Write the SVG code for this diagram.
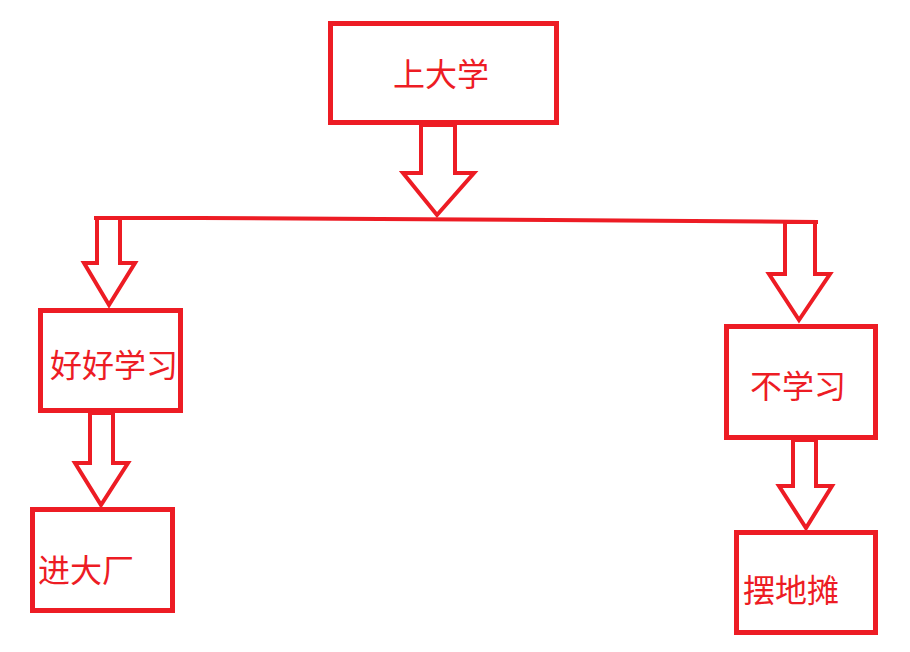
<svg xmlns="http://www.w3.org/2000/svg" width="910" height="652" viewBox="0 0 910 652">
<style>
.box{fill:#fff;stroke:#ED1C24;stroke-width:5}
.arr{fill:#fff;stroke:#ED1C24;stroke-width:4;stroke-linejoin:miter}
.ln{fill:none;stroke:#ED1C24;stroke-width:4}
.t{fill:#ED1C24;font-family:"Microsoft YaHei","Noto Sans CJK SC",sans-serif;font-size:32px}
</style>
<rect width="910" height="652" fill="#fff"/>
<g id="connectors">
<polyline class="ln" points="94,218 200,218 380,219 550,220 818,222"/>
<polygon class="arr" points="421,125 421,173 403,173 437,215 474,173 455,173 455,125"/>
<polygon class="arr" points="97,218 97,263 84,263 109,305 135,263 120,263 120,218"/>
<polygon class="arr" points="90,413 90,463 75,463 101,505 128,463 113,463 113,413"/>
<polygon class="arr" points="785,222 785,274 769,274 799,320 830,274 815,274 815,222"/>
<polygon class="arr" points="793,440 793,486 779,486 806,528 832,486 816,486 816,440"/>
</g>
<g id="n1"><rect class="box" x="330.5" y="23.5" width="226" height="99"/><text class="t" x="393" y="86">上大学</text></g>
<g id="n2"><rect class="box" x="40.5" y="310.5" width="140" height="100"/><text class="t" x="50" y="377">好好学习</text></g>
<g id="n3"><rect class="box" x="32.5" y="509.5" width="140" height="101"/><text class="t" x="38" y="582">进大厂</text></g>
<g id="n4"><rect class="box" x="726.5" y="326.5" width="149" height="111"/><text class="t" x="750" y="398">不学习</text></g>
<g id="n5"><rect class="box" x="736.5" y="532.5" width="139" height="100"/><text class="t" x="743" y="602">摆地摊</text></g>
</svg>
